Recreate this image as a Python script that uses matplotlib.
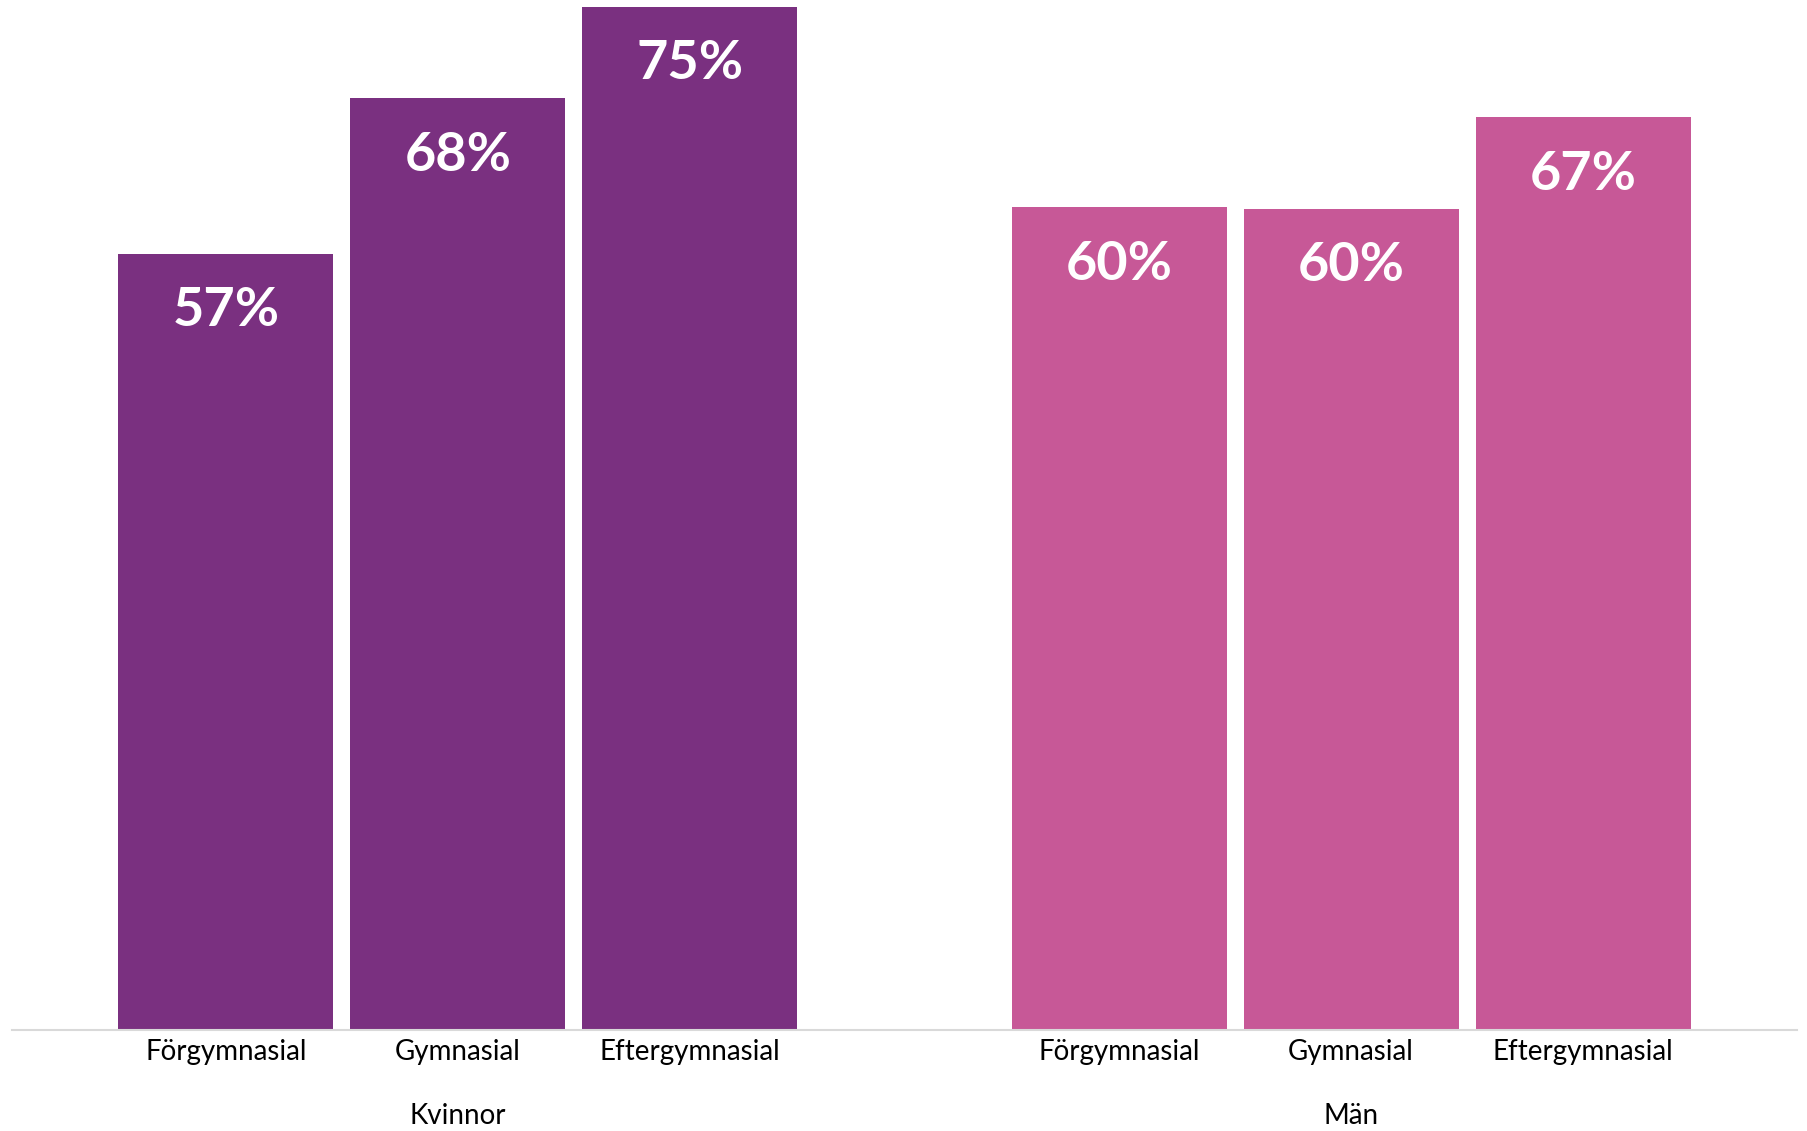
import matplotlib

matplotlib.use("Agg")
import matplotlib.pyplot as plt
import matplotlib.transforms as mtransforms
import numpy as np

plt.rcParams["font.family"] = ["Lato", "DejaVu Sans"]

groups = ["Kvinnor", "Män"]
levels = ["Förgymnasial", "Gymnasial", "Eftergymnasial"]
kvinnor = [56.9, 68.3, 75.0]
man = [60.3, 60.2, 66.9]
labels_kvinnor = ["57%", "68%", "75%"]
labels_man = ["60%", "60%", "67%"]

colors = ["#7A3080", "#C75897"]

fig = plt.figure(figsize=(18.08, 11.31), dpi=100)
ax = fig.add_axes([12 / 1808, 101 / 1131, 1785 / 1808, 1030 / 1131])

group_gap = 3.85
width = 0.927
series = [(kvinnor, labels_kvinnor), (man, labels_man)]
trans = mtransforms.blended_transform_factory(ax.transData, ax.transAxes)

for gi, (vals, labs) in enumerate(series):
    x = np.arange(len(levels)) + gi * group_gap
    bars = ax.bar(x, vals, width, color=colors[gi], linewidth=0)
    for bar, lab in zip(bars, labs):
        ax.annotate(
            lab,
            (bar.get_x() + bar.get_width() / 2, bar.get_height()),
            xytext=(0, -41),
            textcoords="offset points",
            ha="center",
            va="center",
            color="white",
            fontsize=39,
            fontweight="bold",
        )
    for xi, name in zip(x, levels):
        ax.annotate(name, (xi, 0), xycoords=trans, xytext=(0, -16),
                    textcoords="offset points", ha="center", va="center",
                    fontsize=20, color="#000000")
    ax.annotate(groups[gi], (x[1], 0), xycoords=trans, xytext=(0, -62),
                textcoords="offset points", ha="center", va="center",
                fontsize=20, color="#000000")

ax.set_xlim(-0.922, 2 + group_gap + 0.922)
ax.set_ylim(0, 75.5)
ax.set_xticks([])
ax.set_yticks([])
for side in ("top", "left", "right"):
    ax.spines[side].set_visible(False)
ax.spines["bottom"].set_color("#D9D9D9")
ax.spines["bottom"].set_linewidth(1.5)

fig.savefig("out.png", dpi=100)
